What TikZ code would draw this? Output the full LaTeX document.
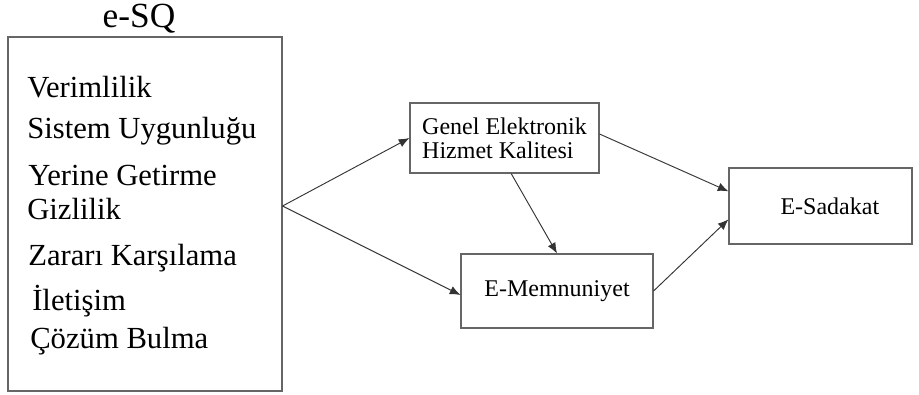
\documentclass[tikz,border=0pt]{standalone}
\usepackage{fontspec}
\setmainfont{Liberation Serif}
\usetikzlibrary{arrows.meta}

\begin{document}
\begin{tikzpicture}[x=0.75pt,y=0.75pt,yscale=-1,xscale=1,
  box/.style={draw=black!60,line width=0.8pt,inner sep=0pt},
  item/.style={anchor=base west,inner sep=0pt,font=\fontsize{23}{26}\selectfont},
  link/.style={draw=black!80,line width=0.7pt,-{Latex[length=8pt,width=6.5pt]}}]
\useasboundingbox (0,0) rectangle (919,394);

%Shape: Rectangle [e-SQ]
\node[box,minimum width=205.5pt,minimum height=265.5pt] (esq) at (145,214) {};
% Text Node
\node[anchor=base,inner sep=0pt,font=\fontsize{26.5}{30}\selectfont] (title) at (139,27) {e-SQ};
% Text Nodes [dimensions]
\foreach \x/\y/\t [count=\i] in {27/97/Verimlilik, 27/138/Sistem Uygunluğu, 28/185/Yerine Getirme, 27/219/Gizlilik, 28/265/Zararı Karşılama, 32/310/İletişim, 30/348/Çözüm Bulma}
  \node[item] (dim\i) at (\x,\y) {\t};

%Shape: Rectangle [genel]
\node[box,minimum width=141.75pt,minimum height=52.5pt,align=left,font=\fontsize{18}{18}\selectfont] (gen) at (504.5,138) {Genel Elektronik\\Hizmet Kalitesi};
%Shape: Rectangle [memnuniyet]
\node[box,minimum width=144pt,minimum height=55.5pt,font=\fontsize{18}{20}\selectfont] (memn) at (557,291) {E-Memnuniyet};
%Shape: Rectangle [sadakat]
\node[box,minimum width=137.25pt,minimum height=57pt,font=\fontsize{18}{20}\selectfont] (sad) at (820.5,206) {\hspace*{14pt}E-Sadakat};

\coordinate (split) at ([yshift=-6pt]esq.east);

%Straight Lines
\draw[link] (split) -- (gen.west);
\draw[link] (split) -- ([yshift=3pt]memn.west);
\draw[link] ([xshift=5pt]gen.south) -- (memn.north);
\draw[link] ([yshift=-3pt]gen.east) -- ([yshift=-11pt]sad.west);
\draw[link] (memn.east) -- ([yshift=10pt]sad.west);

\end{tikzpicture}
\end{document}
